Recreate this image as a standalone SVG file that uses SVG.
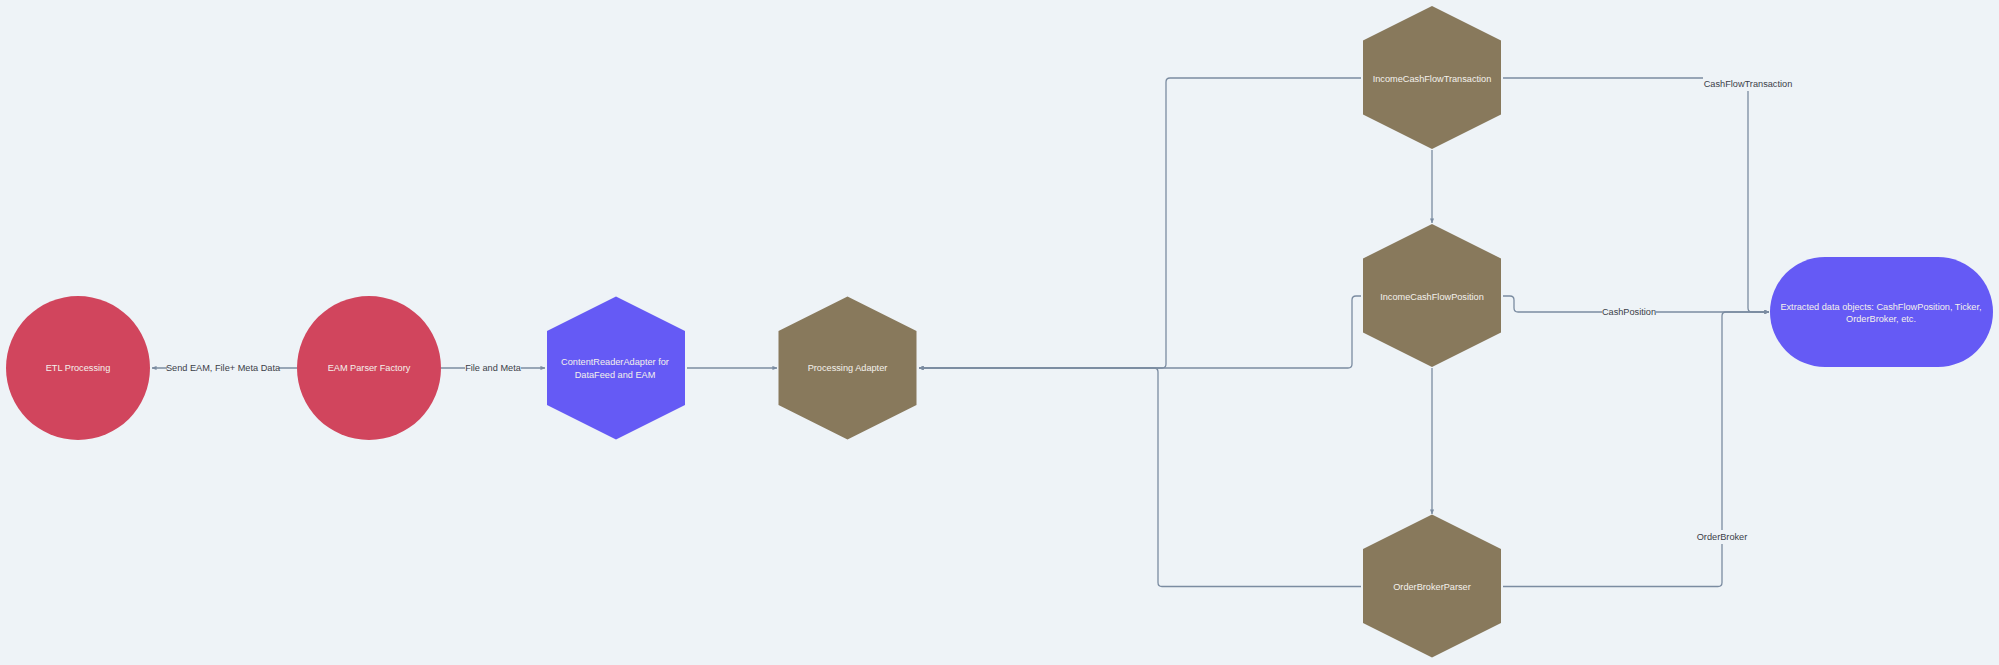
<svg xmlns="http://www.w3.org/2000/svg" width="1999" height="665" viewBox="0 0 1999 665">
<defs>
<marker id="arr" viewBox="0 0 6 6" refX="5.5" refY="3" markerWidth="5" markerHeight="5" markerUnits="userSpaceOnUse" orient="auto">
<path d="M0,0.5 L6,3 L0,5.5 z" fill="#7b8ca1"/>
</marker>
<polygon id="hex" points="0,-71.5 69,-37 69,37 0,71.5 -69,37 -69,-37"/>
</defs>
<style>
text{font-family:"Liberation Sans",Arial,sans-serif;font-size:9.2px;text-anchor:middle;dominant-baseline:central}
.nt{fill:#f4f1ec}
.lt{fill:#3b4048}
.red{fill:#d1455d}
.pur{fill:#655af5}
.brn{fill:#88795c}
.edge{fill:none;stroke:#7b8ca1;stroke-width:1.3}
.lbg{fill:#eef3f7}
</style>
<rect width="1999" height="665" fill="#eef3f7"/>
<g id="connectors">
<path class="edge" d="M297,368 H152" marker-end="url(#arr)"/>
<path class="edge" d="M441,368 H545" marker-end="url(#arr)"/>
<path class="edge" d="M687,368 H777" marker-end="url(#arr)"/>
<path class="edge" d="M1361,78 H1170 Q1166,78 1166,82 V364 Q1166,368 1162,368 H919" marker-end="url(#arr)"/>
<path class="edge" d="M1361,296 H1356 Q1352,296 1352,300 V364 Q1352,368 1348,368 H919" marker-end="url(#arr)"/>
<path class="edge" d="M1361,586.5 H1162 Q1158,586.5 1158,582.5 V372 Q1158,368 1154,368 H919" marker-end="url(#arr)"/>
<path class="edge" d="M1432,150 V223" marker-end="url(#arr)"/>
<path class="edge" d="M1432,368 V514" marker-end="url(#arr)"/>
<path class="edge" d="M1503,78 H1744 Q1748,78 1748,82 V308 Q1748,312 1752,312 H1769" marker-end="url(#arr)"/>
<path class="edge" d="M1503,296 H1510 Q1514,296 1514,300 V308 Q1514,312 1518,312 H1769" marker-end="url(#arr)"/>
<path class="edge" d="M1503,586.5 H1718 Q1722,586.5 1722,582.5 V316 Q1722,312 1726,312 H1769" marker-end="url(#arr)"/>
<rect class="lbg" x="167" y="361" width="112" height="14"/>
<text class="lt" x="223" y="368">Send EAM, File+ Meta Data</text>
<rect class="lbg" x="465" y="361" width="56" height="14"/>
<text class="lt" x="493" y="368">File and Meta</text>
<rect class="lbg" x="1703" y="77" width="90" height="14"/>
<text class="lt" x="1748" y="84">CashFlowTransaction</text>
<rect class="lbg" x="1602" y="305" width="54" height="14"/>
<text class="lt" x="1629" y="312">CashPosition</text>
<rect class="lbg" x="1697" y="530" width="50" height="14"/>
<text class="lt" x="1722" y="537">OrderBroker</text>
</g>
<g id="etl">
<circle class="red" cx="78" cy="368" r="72"/>
<text class="nt" x="78" y="368">ETL Processing</text>
</g>
<g id="eam">
<circle class="red" cx="369" cy="368" r="72"/>
<text class="nt" x="369" y="368">EAM Parser Factory</text>
</g>
<g id="cra">
<use href="#hex" class="pur" x="616" y="368"/>
<text class="nt" x="615" y="362">ContentReaderAdapter for</text>
<text class="nt" x="615" y="375">DataFeed and EAM</text>
</g>
<g id="pa">
<use href="#hex" class="brn" x="847.5" y="368"/>
<text class="nt" x="847.5" y="368">Processing Adapter</text>
</g>
<g id="icft">
<use href="#hex" class="brn" x="1432" y="77.5"/>
<text class="nt" x="1432" y="78.5">IncomeCashFlowTransaction</text>
</g>
<g id="icfp">
<use href="#hex" class="brn" x="1432" y="295.5"/>
<text class="nt" x="1432" y="296.5">IncomeCashFlowPosition</text>
</g>
<g id="obp">
<use href="#hex" class="brn" x="1432" y="586"/>
<text class="nt" x="1432" y="587">OrderBrokerParser</text>
</g>
<g id="extracted">
<rect class="pur" x="1770" y="257" width="223" height="110" rx="55" ry="55"/>
<text class="nt" x="1881" y="306.5">Extracted data objects: CashFlowPosition, Ticker,</text>
<text class="nt" x="1881" y="319">OrderBroker, etc.</text>
</g>
</svg>
